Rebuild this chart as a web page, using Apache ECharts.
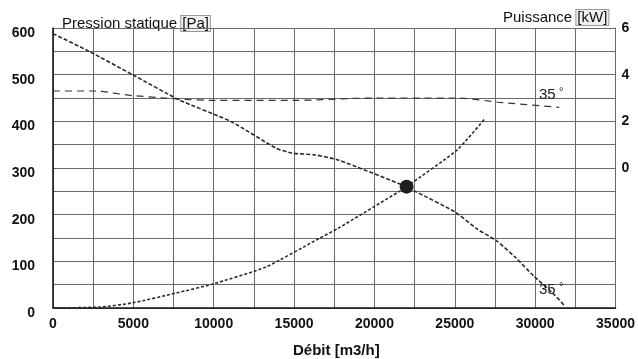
<!DOCTYPE html>
<html>
<head>
<meta charset="utf-8">
<script src="https://cdn.jsdelivr.net/npm/echarts@6/dist/echarts.min.js"></script>
<style>
  html, body { margin: 0; padding: 0; background: #fff; }
  #chart { width: 638px; height: 359px; }
</style>
</head>
<body>
<div id="chart"></div>
<script>
// Fan curve: static pressure vs. air flow, system resistance curve,
// absorbed power and the operating point.

// Fan static pressure curve (blade angle 35°)
const pressureFlow = [0, 2300, 5000, 7850, 11100, 13850, 14850, 16300, 17750, 22000, 22600, 25000, 26400, 27600, 28750, 29900, 31200, 31800];
const pressurePa   = [588, 549, 499, 446, 399, 343, 332, 328, 317, 260, 249, 206, 169, 144, 109, 69, 28, 6];

// System resistance curve
const systemFlow = [0, 2900, 4950, 7650, 9900, 13250, 16500, 17750, 21600, 22000, 25150, 26900];
const systemPa   = [0, 2, 11, 32, 51, 88, 148, 171, 251, 260, 339, 407];

// Absorbed power (right axis)
const powerFlow = [0, 2500, 5000, 10000, 15000, 20000, 25000, 28000, 31500];
const powerKW   = [3.3, 3.3, 3.1, 2.9, 2.9, 3.0, 3.0, 2.8, 2.6];

// Operating point
const dutyFlow = 22000;
const dutyPa = 260;

// Tick labels shown on the axes
const flowLabels = [0, 5000, 10000, 15000, 20000, 25000, 30000, 35000];
const pressureLabels = [0, 100, 200, 300, 400, 500, 600];
const powerLabels = [0, 2, 4, 6];

const zip = (xs, ys) => xs.map((x, i) => [x, ys[i]]);

const tickFont = { fontFamily: 'Liberation Sans, Arial, sans-serif', fontSize: 14, fontWeight: 'bold', color: '#111' };
const gridLine = { show: true, lineStyle: { color: '#6a6a6a', width: 1 } };
const angleRich = {
  n: { fontFamily: 'Liberation Sans, Arial, sans-serif', fontSize: 15, color: '#222' },
  d: { fontFamily: 'Liberation Sans, Arial, sans-serif', fontSize: 11, color: '#222', padding: [0, 0, 6, 0] }
};

const chart = echarts.init(document.getElementById('chart'), null, { renderer: 'canvas' });

chart.setOption({
  animation: false,
  backgroundColor: '#fff',
  grid: { left: 53, right: 19, top: 28, bottom: 51, containLabel: false },
  xAxis: {
    type: 'value', min: 0, max: 35000, interval: 2500,
    axisLine: { show: true, onZero: false, lineStyle: { color: '#111', width: 1.5 } },
    axisTick: { show: false },
    splitLine: gridLine,
    axisLabel: Object.assign({}, tickFont, {
      margin: 9, showMaxLabel: true, showMinLabel: true,
      formatter: v => flowLabels.includes(v) ? String(v) : ''
    })
  },
  yAxis: [
    {
      type: 'value', min: 0, max: 600, interval: 50,
      axisLine: { show: true, lineStyle: { color: '#111', width: 1.5 } },
      axisTick: { show: false },
      splitLine: gridLine,
      axisLabel: Object.assign({}, tickFont, {
        margin: 18, verticalAlign: 'top', lineHeight: 10,
        formatter: v => pressureLabels.includes(v) ? String(v) : ''
      })
    },
    {
      type: 'value', min: -6, max: 6, interval: 1, position: 'right',
      axisLine: { show: true, lineStyle: { color: '#6a6a6a', width: 1 } },
      axisTick: { show: false },
      splitLine: { show: false },
      axisLabel: Object.assign({}, tickFont, {
        margin: 6,
        formatter: v => powerLabels.includes(v) ? String(v) : ''
      })
    }
  ],
  series: [
    {
      name: 'Pression statique',
      type: 'line', yAxisIndex: 0, smooth: 0.2, symbol: 'none',
      data: zip(pressureFlow, pressurePa),
      lineStyle: { color: '#2a2a2a', width: 1.6, type: [4, 2] },
      emphasis: { disabled: true },
      markPoint: {
        symbol: 'circle', symbolSize: 0,
        label: { show: true, position: 'right', distance: 0, formatter: '{n|35} {d|°}', rich: angleRich },
        data: [{ coord: [30240, 38] }]
      }
    },
    {
      name: 'Réseau',
      type: 'line', yAxisIndex: 0, smooth: 0.2, symbol: 'none',
      data: zip(systemFlow, systemPa),
      lineStyle: { color: '#2a2a2a', width: 1.6, type: [3, 2] },
      emphasis: { disabled: true }
    },
    {
      name: 'Puissance',
      type: 'line', yAxisIndex: 1, smooth: 0.3, symbol: 'none',
      data: zip(powerFlow, powerKW),
      lineStyle: { color: '#333', width: 1.2, type: [7, 5] },
      emphasis: { disabled: true },
      markPoint: {
        symbol: 'circle', symbolSize: 0,
        label: { show: true, position: 'right', distance: 0, formatter: '{n|35} {d|°}', rich: angleRich },
        data: [{ coord: [30240, 3.13] }]
      }
    },
    {
      name: 'Point de fonctionnement',
      type: 'scatter', yAxisIndex: 0, symbol: 'circle', symbolSize: 14,
      data: [[dutyFlow, dutyPa]],
      itemStyle: { color: '#1e1e1e', opacity: 1 },
      emphasis: { disabled: true },
      z: 5
    }
  ],
  graphic: [
    {
      type: 'text', left: 62, top: 15,
      style: {
        text: 'Pression statique {b|[Pa]}',
        font: '15px "Liberation Sans", Arial, sans-serif', fill: '#111',
        rich: { b: { fontSize: 15, fontFamily: 'Liberation Sans, Arial, sans-serif', borderColor: '#999', borderWidth: 1, backgroundColor: '#f1f1f1', padding: [0, 1, 0, 1] } }
      }
    },
    {
      type: 'text', left: 503, top: 9,
      style: {
        text: 'Puissance {b|[kW]}',
        font: '15px "Liberation Sans", Arial, sans-serif', fill: '#111',
        rich: { b: { fontSize: 15, fontFamily: 'Liberation Sans, Arial, sans-serif', borderColor: '#999', borderWidth: 1, backgroundColor: '#f1f1f1', padding: [0, 1, 0, 1] } }
      }
    },
    {
      type: 'text', left: 293, top: 343,
      style: {
        text: 'Débit [m3/h]',
        font: 'bold 15px "Liberation Sans", Arial, sans-serif', fill: '#111'
      }
    }
  ]
});
</script>
</body>
</html>
